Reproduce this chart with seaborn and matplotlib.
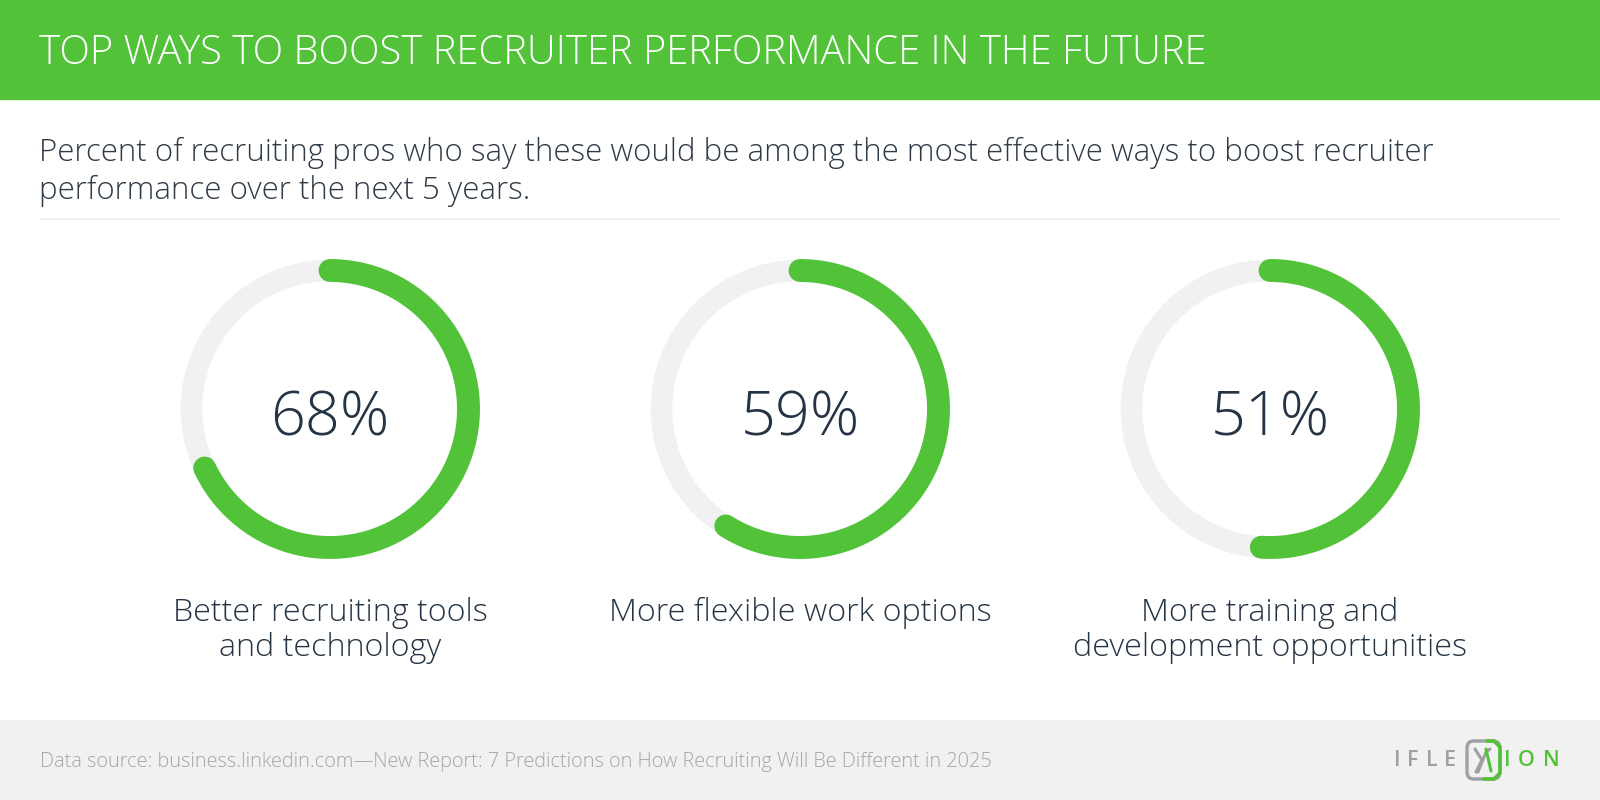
import numpy as np
import pandas as pd
import seaborn as sns
import matplotlib.pyplot as plt
from matplotlib.patches import Rectangle, FancyBboxPatch

sns.set_theme(style="white")
plt.rcParams['font.family'] = ['Open Sans', 'DejaVu Sans']

# ---- data ----
categories = ["Better recruiting tools\nand technology",
              "More flexible work options",
              "More training and\ndevelopment opportunities"]
values = [68, 59, 51]
title = "TOP WAYS TO BOOST RECRUITER PERFORMANCE IN THE FUTURE"
subtitle = ("Percent of recruiting pros who say these would be among the most effective ways to boost recruiter\n"
            "performance over the next 5 years.")
source = "Data source: business.linkedin.com\u2014New Report: 7 Predictions on How Recruiting Will Be Different in 2025"

GREEN = "#52c239"
RING_BG = "#f1f1f1"
DARK = "#253444"
LOGO_GRAY = "#9da0a4"

W, H = 1600, 800
fig = plt.figure(figsize=(16, 8), dpi=100)
fig.patch.set_facecolor("white")

# background axes in pixel coordinates
bg = fig.add_axes([0, 0, 1, 1])
bg.set_xlim(0, W)
bg.set_ylim(H, 0)
bg.axis("off")
bg.add_patch(Rectangle((0, 0), W, 99, color=GREEN, zorder=0))
bg.add_patch(Rectangle((0, 720), W, 80, color="#f1f1f1", zorder=0))
bg.plot([40, 1559], [219, 219], color="#ececec", lw=1.2)

bg.text(39, 54, title, color="white", fontsize=28.8, fontweight="light", va="center", ha="left")
bg.text(39, 172, subtitle, color="#2f3a47", fontsize=22.5, fontweight="light", va="center", ha="left",
        linespacing=1.25)
bg.text(40, 762, source, color="#a3a6aa", fontsize=14.3, fontweight="light", va="center", ha="left")

# logo
for ch, x, c in [("I", 1394, LOGO_GRAY), ("F", 1407, LOGO_GRAY), ("L", 1426, LOGO_GRAY),
                 ("E", 1444, LOGO_GRAY), ("I", 1504, GREEN), ("O", 1518, GREEN), ("N", 1543, GREEN)]:
    bg.text(x, 760, ch, color=c, fontsize=15.5, va="center", ha="left", fontweight="semibold")
bg.add_patch(FancyBboxPatch((1467, 741), 33, 38, boxstyle="round,pad=0,rounding_size=7",
                            fill=False, ec=LOGO_GRAY, lw=2.4))
bg.plot([1487, 1494, 1500, 1500, 1494, 1484], [741, 741, 747, 773, 779, 779], color=GREEN, lw=2.6,
        solid_joinstyle="round")
bg.plot([1475, 1482, 1476], [749, 760, 772], color=LOGO_GRAY, lw=2.2)
bg.plot([1478, 1486, 1490], [772, 752, 749], color=LOGO_GRAY, lw=2.2)
bg.plot([1486, 1491], [749, 771], color=GREEN, lw=2.2)

centers = [330, 800, 1270]
cy = 409
R = 138.5
half = 165

for cx, val, lab in zip(centers, values, categories):
    ax = fig.add_axes([(cx - half) / W, (H - cy - half) / H, 2 * half / W, 2 * half / H])
    ax.set_xlim(-half, half)
    ax.set_ylim(-half, half)
    ax.set_aspect("equal")
    ax.axis("off")
    t = np.linspace(0, 2 * np.pi, 400)
    bgring = pd.DataFrame({"x": R * np.sin(t), "y": R * np.cos(t)})
    sns.lineplot(data=bgring, x="x", y="y", sort=False, estimator=None, color=RING_BG,
                 lw=15.5, ax=ax, legend=False)
    a = np.linspace(0, 2 * np.pi * val / 100, 400)
    arc = pd.DataFrame({"x": R * np.sin(a), "y": R * np.cos(a)})
    sns.lineplot(data=arc, x="x", y="y", sort=False, estimator=None, color=GREEN,
                 lw=16.5, ax=ax, legend=False, solid_capstyle="round")
    ax.text(0, -11, f"{val}%", color=DARK, fontsize=44, fontweight="light", ha="center", va="center")
    bg.text(cx, 597, lab, color=DARK, fontsize=23.2, fontweight="light", ha="center", va="top",
            linespacing=1.12)

fig.savefig("out.png", dpi=100)
